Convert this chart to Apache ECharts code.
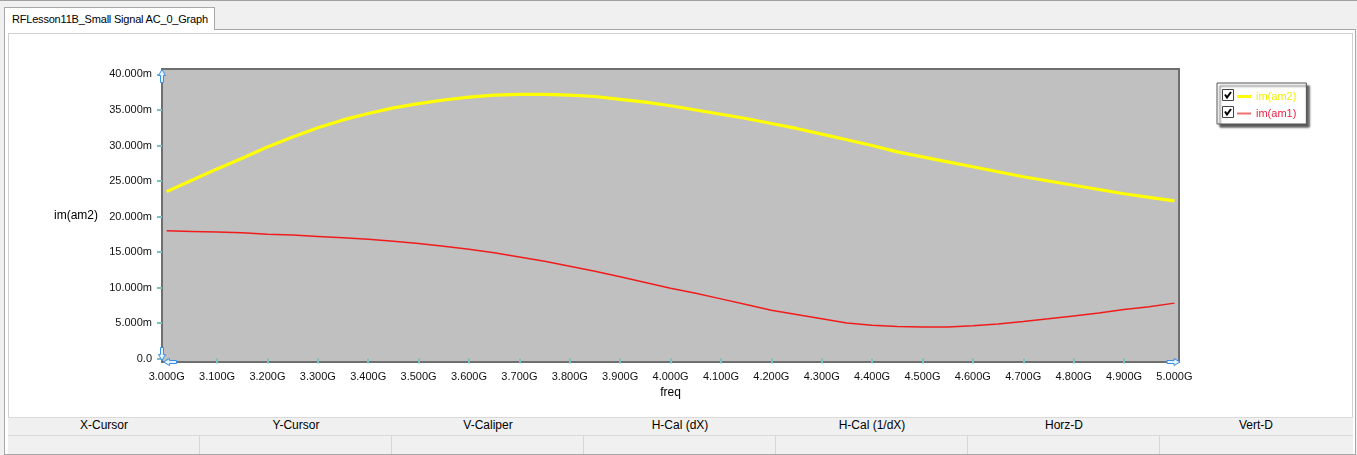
<!DOCTYPE html>
<html><head><meta charset="utf-8">
<script src="https://cdn.jsdelivr.net/npm/echarts@6/dist/echarts.min.js"></script>
<style>
html,body{margin:0;padding:0;width:1357px;height:455px;overflow:hidden;background:#f0f0f0;font-family:"Liberation Sans",Arial,sans-serif;}
.abs{position:absolute;box-sizing:border-box;}
#tbl{left:8px;top:417px;width:1345px;height:35px;}
.row{display:flex;background:#f0f0f0;}
.hdr{height:17px;border-top:1px solid #dadada;border-bottom:1px solid #dadada;}
.hdr div{width:192px;text-align:center;font-size:12px;line-height:15px;color:#000;}
.val{height:18px;}
.val div{width:192px;border-right:1px solid #d6d6d6;box-sizing:border-box;}
</style></head><body>
<div class="abs" style="left:0;top:0;width:1357px;height:1px;background:#a0a0a0"></div>
<div class="abs" style="left:4px;top:29px;width:1352px;height:426px;background:#fff;border:1px solid #a8a8a8;"></div>
<div class="abs" style="left:4px;top:7px;width:211px;height:23px;background:#fff;border:1px solid #a8a8a8;border-bottom:none;font-size:11px;line-height:22px;padding-left:7px;letter-spacing:-0.2px;color:#000;white-space:nowrap;overflow:hidden;">RFLesson11B_Small Signal AC_0_Graph</div>
<div class="abs" style="left:8px;top:33px;width:1345px;height:420px;border:1px solid #d0d0d0;background:#fff"></div>
<div class="abs" id="tbl">
  <div class="row hdr"><div>X-Cursor</div><div>Y-Cursor</div><div>V-Caliper</div><div>H-Cal (dX)</div><div>H-Cal (1/dX)</div><div>Horz-D</div><div>Vert-D</div></div>
  <div class="row val"><div></div><div></div><div></div><div></div><div></div><div></div><div style="border-right:none"></div></div>
</div>
<div id="chart" class="abs" style="left:0;top:0;width:1357px;height:455px"></div>
<script>
// frequency (GHz)
const freq = [3.00,3.05,3.10,3.15,3.20,3.25,3.30,3.35,3.40,3.45,3.50,3.55,3.60,3.65,3.70,3.75,3.80,3.85,3.90,3.95,
              4.00,4.05,4.10,4.15,4.20,4.25,4.30,4.35,4.40,4.45,4.50,4.55,4.60,4.65,4.70,4.75,4.80,4.85,4.90,4.95,5.00];
// im(am2) in milli-units
const imAm2 = [23.5,25.1,26.7,28.2,29.8,31.2,32.5,33.6,34.5,35.3,35.9,36.4,36.8,37.1,37.2,37.2,37.1,36.9,36.5,36.1,
               35.6,35.0,34.4,33.8,33.1,32.4,31.6,30.8,30.0,29.1,28.4,27.7,27.0,26.3,25.6,25.0,24.4,23.8,23.2,22.7,22.2];
// im(am1) in milli-units
const imAm1 = [18.0,17.9,17.8,17.7,17.5,17.4,17.2,17.0,16.8,16.5,16.2,15.8,15.4,14.9,14.3,13.7,13.0,12.3,11.5,10.7,
               9.9,9.2,8.4,7.6,6.8,6.2,5.6,5.0,4.7,4.5,4.45,4.45,4.6,4.85,5.2,5.6,6.0,6.4,6.9,7.3,7.8];
const xTicks = [3.0,3.1,3.2,3.3,3.4,3.5,3.6,3.7,3.8,3.9,4.0,4.1,4.2,4.3,4.4,4.5,4.6,4.7,4.8,4.9,5.0];
const yTicks = [0,5,10,15,20,25,30,35,40];
const seriesNames = ['im(am2)','im(am1)'];

const X_MIN = 2.9907, X_MAX = 5.0091, Y_MIN = -0.49, Y_MAX = 40.77;
const FONT = '"Liberation Sans", Arial, sans-serif';
const TICK_COLOR = '#78c2c2';

const chart = echarts.init(document.getElementById('chart'), null, {renderer:'canvas'});
chart.setOption({
  backgroundColor: 'transparent',
  animation: false,
  grid: {left:162, top:69, right:178, bottom:93, show:true, backgroundColor:'#c0c0c0', borderColor:'#6e6e6e', borderWidth:2},
  xAxis: {
    type:'value', min:X_MIN, max:X_MAX,
    axisLine:{show:false}, splitLine:{show:false},
    axisTick:{show:true, customValues:xTicks, length:5, lineStyle:{color:TICK_COLOR, width:2}},
    axisLabel:{customValues:xTicks, formatter:v=>v.toFixed(3)+'G', margin:9, fontSize:11, color:'#111', fontFamily:FONT},
    name:'freq', nameLocation:'middle', nameGap:23,
    nameTextStyle:{fontSize:12, color:'#000', fontFamily:FONT, verticalAlign:'top'}
  },
  yAxis: {
    type:'value', min:Y_MIN, max:Y_MAX,
    axisLine:{show:false}, splitLine:{show:false},
    axisTick:{show:true, customValues:yTicks, length:5, lineStyle:{color:TICK_COLOR, width:2}},
    axisLabel:{customValues:yTicks, formatter:v=>v===0?'0.0':v.toFixed(3)+'m', margin:10, fontSize:11, color:'#111', fontFamily:FONT},
    name:seriesNames[0], nameLocation:'middle', nameGap:64, nameRotate:0,
    nameTextStyle:{fontSize:12, color:'#000', fontFamily:FONT, align:'right'}
  },
  legend: {
    orient:'vertical', left:1217, top:83, padding:[8,10,5,20], itemGap:6,
    itemWidth:14, itemHeight:13, itemTextGap:5, selectedMode:false, z:4,
    backgroundColor:'#fff', borderColor:'#555', borderWidth:1,
    shadowColor:'rgba(0,0,0,0.65)', shadowOffsetX:3, shadowOffsetY:3, shadowBlur:2,
    textStyle:{fontSize:11, fontFamily:FONT},
    data:[
      {name:seriesNames[0], icon:'path://M0 0H14V3H0Z', textStyle:{color:'#f2f200'}},
      {name:seriesNames[1], icon:'path://M0 0H14V2H0Z', textStyle:{color:'#ee2244'}}
    ]
  },
  series: [
    {name:seriesNames[0], type:'line', showSymbol:false, data:freq.map((f,i)=>[f,imAm2[i]]),
     lineStyle:{color:'#ffff00', width:3.2}, itemStyle:{color:'#ffff00'}, z:3},
    {name:seriesNames[1], type:'line', showSymbol:false, data:freq.map((f,i)=>[f,imAm1[i]]),
     lineStyle:{color:'#f01c1c', width:1.5}, itemStyle:{color:'#f07070'}, z:2}
  ]
});

// decorations: cursor arrows on frame corners, legend checkboxes
const tl = chart.convertToPixel({gridIndex:0}, [X_MIN, Y_MAX]);
const bl = chart.convertToPixel({gridIndex:0}, [X_MIN, Y_MIN]);
const br = chart.convertToPixel({gridIndex:0}, [X_MAX, Y_MIN]);
const arrowStyle = {fill:'#e4f1ff', stroke:'#3a8ee6', lineWidth:1};
function arrow(x, y, dir) {
  const base = [[0,0],[3.5,6],[1.5,6],[1.5,13],[-1.5,13],[-1.5,6],[-3.5,6]];
  const pts = base.map(([a,b]) => {
    if (dir==='up') return [x+a, y+b];
    if (dir==='down') return [x+a, y-b];
    if (dir==='left') return [x+b, y+a];
    return [x-b, y+a];
  });
  return {type:'polygon', shape:{points:pts}, style:arrowStyle, z:100};
}
function checkbox(x, y) {
  return [
    {type:'rect', z:100, shape:{x:x, y:y, width:11, height:11}, style:{fill:'#fff', stroke:'#444', lineWidth:1}},
    {type:'polyline', z:101, shape:{points:[[x+2.5,y+5],[x+4.5,y+8],[x+8.5,y+2.5]]}, style:{stroke:'#000', lineWidth:2, fill:null}}
  ];
}
chart.setOption({
  graphic: [
    arrow(tl[0], tl[1]+0.5, 'up'),
    arrow(bl[0], bl[1]-1.5, 'down'),
    arrow(bl[0]+1.5, bl[1], 'left'),
    arrow(br[0]+1, br[1], 'right'),
    ...checkbox(1222.5, 89.5),
    ...checkbox(1222.5, 106.5)
  ]
});
</script>
</body></html>
